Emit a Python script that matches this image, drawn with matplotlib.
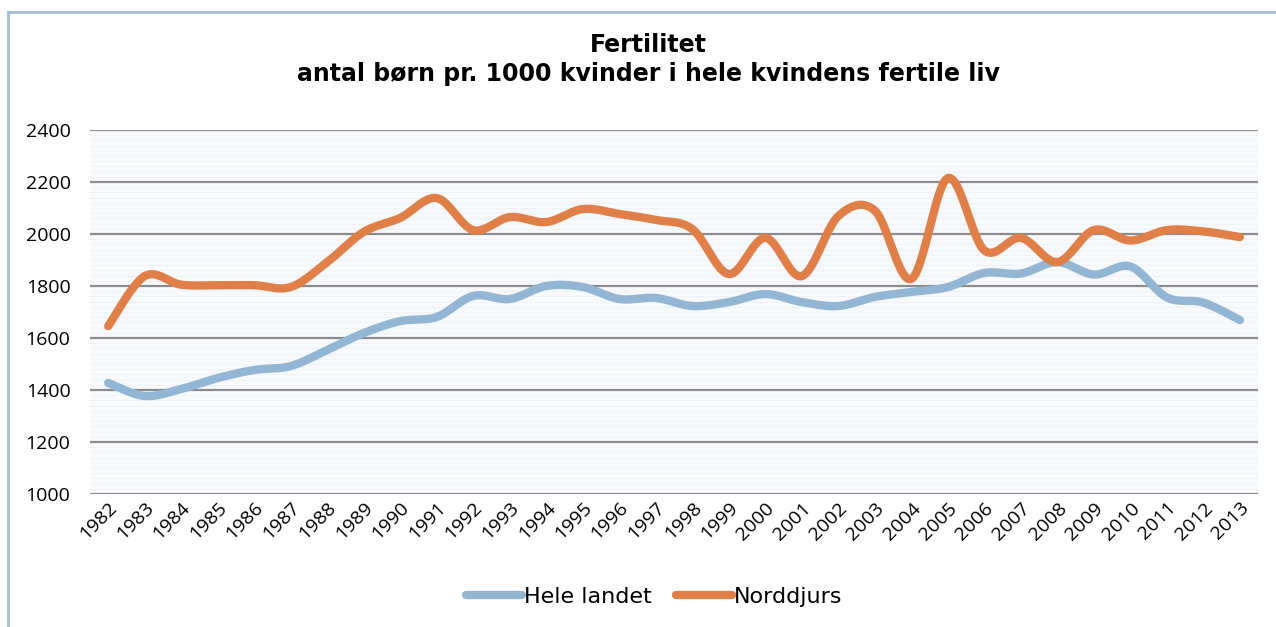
import numpy as np
import matplotlib
matplotlib.use("Agg")
import matplotlib.pyplot as plt
from matplotlib.lines import Line2D

# data
years = list(range(1982, 2014))
hele_landet = [1427, 1377, 1404, 1446, 1477, 1492, 1554, 1619, 1665, 1681,
               1762, 1750, 1800, 1796, 1750, 1754, 1723, 1738, 1769, 1738,
               1723, 1758, 1777, 1796, 1850, 1848, 1892, 1844, 1875, 1756,
               1736, 1669]
norddjurs = [1646, 1838, 1805, 1803, 1803, 1796, 1892, 2008, 2062, 2138,
             2015, 2065, 2046, 2096, 2077, 2054, 2019, 1846, 1985, 1838,
             2069, 2090, 1827, 2215, 1937, 1985, 1892, 2015, 1975, 2015,
             2010, 1988]
title = "Fertilitet\nantal børn pr. 1000 kvinder i hele kvindens fertile liv"
yticks = [1000, 1200, 1400, 1600, 1800, 2000, 2200, 2400]

blue = "#93b6d5"
orange = "#e07f48"


def smooth(x, y, n=24):
    # Catmull-Rom style smoothing like the spreadsheet's smoothed line
    x = np.asarray(x, float)
    y = np.asarray(y, float)
    px = np.concatenate([[x[0]], x, [x[-1]]])
    py = np.concatenate([[y[0]], y, [y[-1]]])
    xs, ys = [], []
    t = np.linspace(0, 1, n, endpoint=False)
    for i in range(1, len(px) - 2):
        p0, p1, p2, p3 = px[i - 1], px[i], px[i + 1], px[i + 2]
        q0, q1, q2, q3 = py[i - 1], py[i], py[i + 1], py[i + 2]
        c1x, c1y = p1 + (p2 - p0) / 6, q1 + (q2 - q0) / 6
        c2x, c2y = p2 - (p3 - p1) / 6, q2 - (q3 - q1) / 6
        b0, b1, b2, b3 = (1 - t) ** 3, 3 * t * (1 - t) ** 2, 3 * t ** 2 * (1 - t), t ** 3
        xs.extend(b0 * p1 + b1 * c1x + b2 * c2x + b3 * p2)
        ys.extend(b0 * q1 + b1 * c1y + b2 * c2y + b3 * q2)
    xs.append(x[-1])
    ys.append(y[-1])
    return np.array(xs), np.array(ys)


fig = plt.figure(figsize=(12.76, 6.27), dpi=100)
ax = fig.add_axes([0.0705, 0.2121, 0.9155, 0.5806])

pos = np.arange(len(years))
ax.set_xlim(-0.5, len(years) - 0.5)
ax.set_ylim(1000, 2400)

# very light plot area (reference has a faint fine grid pattern)
ax.set_facecolor("#f7f9fc")
ax.set_yticks(yticks)
ax.set_yticks(np.arange(1000, 2400, 20), minor=True)
ax.grid(axis="y", which="minor", color="#eef2f7", linewidth=0.6, zorder=0)
ax.grid(axis="y", which="major", color="#8c8c8c", linewidth=1.6, zorder=1)
for s in ["left", "right", "top", "bottom"]:
    ax.spines[s].set_visible(False)
ax.tick_params(axis="both", which="both", length=0, labelsize=14)
ax.tick_params(axis="y", pad=14)
ax.set_xticks(pos)
ax.set_xticklabels([str(y) for y in years], rotation=45, ha="right",
                   rotation_mode="anchor", fontsize=14)
for lbl in ax.get_xticklabels() + ax.get_yticklabels():
    lbl.set_fontfamily("Open Sans")

sx, sy = smooth(pos, hele_landet)
ax.plot(sx, sy, color=blue, linewidth=6, solid_capstyle="round", zorder=3,
        label="Hele landet")
sx, sy = smooth(pos, norddjurs)
ax.plot(sx, sy, color=orange, linewidth=6, solid_capstyle="round", zorder=4,
        label="Norddjurs")

fig.text(0.508, 0.905, title, ha="center", va="center", fontsize=17,
         fontweight="bold", linespacing=1.25)

leg = fig.legend(loc="center", bbox_to_anchor=(0.513, 0.048), ncol=2,
                 frameon=False, fontsize=16, handlelength=2.5,
                 handletextpad=0.1, columnspacing=1.1)

# chart frame (cut off at right and bottom)
fig.add_artist(Line2D([8 / 1276, 1.0], [1 - 12 / 627, 1 - 12 / 627],
                      transform=fig.transFigure, color="#a4bfda", linewidth=2))
fig.add_artist(Line2D([8 / 1276, 8 / 1276], [0.0, 1 - 12 / 627],
                      transform=fig.transFigure, color="#a4bfda", linewidth=2))

fig.savefig("out.png", dpi=100)
